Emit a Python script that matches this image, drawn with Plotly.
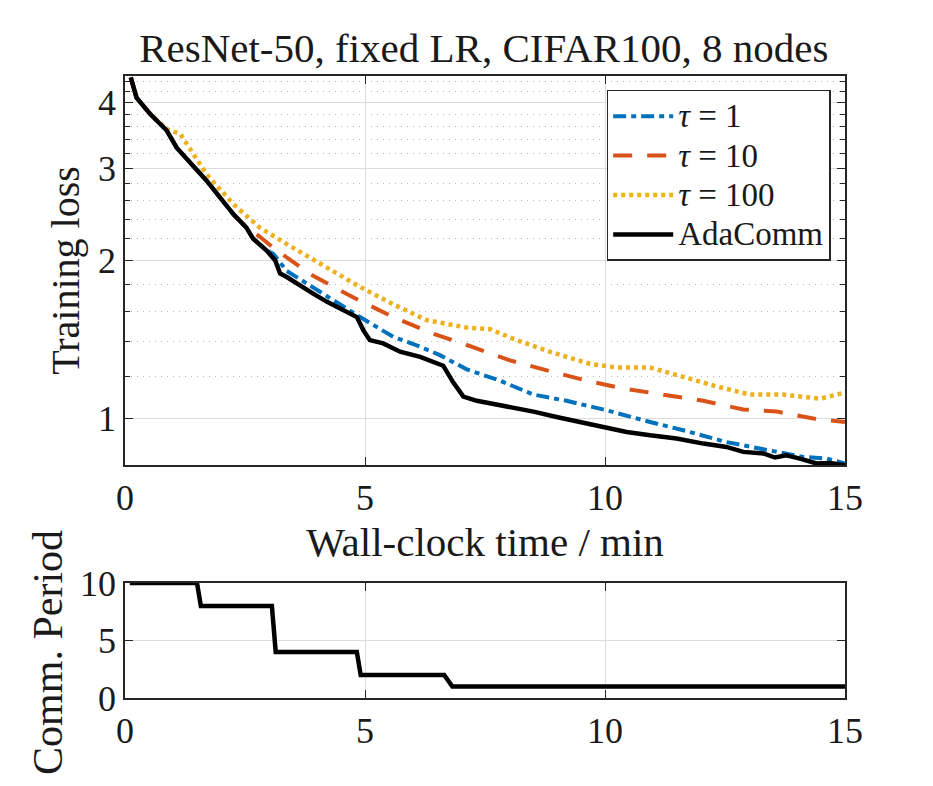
import plotly.graph_objects as go

# wall-clock time (min) and training loss
early_t = [0.12, 0.24, 0.52, 0.87, 1.08, 1.70, 2.26, 2.53]
early_loss = [4.47, 4.09, 3.81, 3.54, 3.28, 2.84, 2.45, 2.31]

tau1_t = early_t + [2.67, 2.95, 3.09, 3.37, 3.78, 4.34, 4.90, 5.59, 6.15, 6.56,
                    7.12, 7.81, 8.51, 9.20, 10.03, 10.94, 11.63, 12.53, 13.37,
                    14.13, 14.62, 15.0]
tau1_loss = early_loss + [2.20, 2.09, 2.06, 1.91, 1.81, 1.68, 1.56, 1.43, 1.37,
                          1.32, 1.24, 1.18, 1.11, 1.08, 1.036, 0.984, 0.949,
                          0.901, 0.869, 0.844, 0.838, 0.820]

tau10_t = early_t + [2.81, 3.16, 3.92, 4.76, 5.59, 6.42, 7.22, 8.02, 8.85,
                     9.62, 10.38, 11.21, 12.05, 12.88, 13.58, 14.34, 15.0]
tau10_loss = early_loss + [2.22, 2.09, 1.87, 1.70, 1.56, 1.45, 1.37, 1.29, 1.23,
                           1.18, 1.14, 1.11, 1.08, 1.04, 1.03, 0.999, 0.984]

tau100_t = [0.12, 0.24, 0.52, 0.87, 1.15, 1.70, 2.26, 2.81, 3.37, 4.06, 4.90,
            5.59, 6.28, 6.77, 7.12, 7.60, 8.16, 8.85, 9.69, 10.24, 10.94,
            11.63, 12.33, 13.02, 13.71, 14.48, 15.0]
tau100_loss = [4.47, 4.09, 3.81, 3.56, 3.49, 2.92, 2.56, 2.31, 2.15, 1.97, 1.78,
               1.65, 1.54, 1.51, 1.49, 1.48, 1.41, 1.34, 1.27, 1.25, 1.25,
               1.20, 1.15, 1.11, 1.11, 1.09, 1.12]

ada_t = [0.12, 0.24, 0.52, 0.87, 1.08, 1.70, 2.26, 2.53, 2.67, 2.95, 3.13,
         3.23, 3.37, 3.65, 3.92, 4.20, 4.55, 4.83, 4.97, 5.10, 5.38, 5.73,
         6.15, 6.42, 6.63, 6.84, 7.05, 7.33, 7.81, 8.23, 8.51, 8.99, 9.62,
         10.03, 10.45, 10.94, 11.49, 12.05, 12.53, 12.88, 13.30, 13.54,
         13.78, 14.06, 14.41, 14.69, 15.0]
ada_loss = [4.47, 4.09, 3.81, 3.54, 3.28, 2.84, 2.45, 2.31, 2.20, 2.09, 2.00,
            1.89, 1.86, 1.79, 1.73, 1.67, 1.61, 1.56, 1.47, 1.41, 1.39, 1.34,
            1.31, 1.28, 1.26, 1.17, 1.10, 1.08, 1.06, 1.04, 1.03, 1.006, 0.977,
            0.963, 0.942, 0.928, 0.915, 0.895, 0.882, 0.863, 0.857, 0.842,
            0.850, 0.838, 0.820, 0.822, 0.814]

# AdaComm communication period
period_t = [0.1, 1.50, 1.58, 3.06, 3.14, 4.83, 4.91, 6.65, 6.82, 15.0]
period_val = [10, 10, 8, 8, 4, 4, 2, 2, 1, 1]

loss_major = [1, 2, 3, 4]
loss_minor = [1.2, 1.4, 1.6, 1.8, 2.2, 2.4, 2.6, 2.8, 3.2, 3.4, 3.6, 3.8,
              4.2, 4.4]

FONT = "Liberation Serif, Times New Roman, DejaVu Serif, serif"
FRAME = "#262626"
TEXT = "#1a1a1a"


def legend_label(text):
    # bigger glyphs than the legend row height, like the MATLAB legend
    return f'<span style="font-size:33px">{text}</span>'


fig = go.Figure()
fig.add_trace(go.Scatter(x=tau1_t, y=tau1_loss, mode="lines",
                         name=legend_label("<i>τ</i> = 1"),
                         line=dict(color="#0072BD", width=4,
                                   dash="13px,5px,5px,5px")))
fig.add_trace(go.Scatter(x=tau10_t, y=tau10_loss, mode="lines",
                         name=legend_label("<i>τ</i> = 10"),
                         line=dict(color="#D95319", width=4,
                                   dash="19px,15px")))
fig.add_trace(go.Scatter(x=tau100_t, y=tau100_loss, mode="lines",
                         name=legend_label("<i>τ</i> = 100"),
                         line=dict(color="#EDB120", width=4.5,
                                   dash="4px,4px")))
fig.add_trace(go.Scatter(x=ada_t, y=ada_loss, mode="lines",
                         name=legend_label("AdaComm"),
                         line=dict(color="black", width=4.5)))
fig.add_trace(go.Scatter(x=period_t, y=period_val, mode="lines",
                         showlegend=False, xaxis="x2", yaxis="y2",
                         line=dict(color="black", width=4.5)))

axis_common = dict(
    showline=True, mirror="allticks", linecolor=FRAME, linewidth=1.5,
    ticks="inside", ticklen=8, tickcolor=FRAME, tickwidth=1,
    gridcolor="#dcdcdc", gridwidth=1, zeroline=False,
    tickfont=dict(family=FONT, size=36, color=TEXT),
)

fig.update_layout(
    width=933, height=786,
    margin=dict(l=117, r=96, t=68, b=96),
    paper_bgcolor="white", plot_bgcolor="white",
    font=dict(family=FONT, color=TEXT),
    title=dict(text="ResNet-50, fixed LR, CIFAR100, 8 nodes",
               x=0.510, xanchor="center", y=0.950, yanchor="middle",
               font=dict(family=FONT, size=41, color=TEXT)),
    xaxis=dict(axis_common, range=[0, 15], tickvals=[0, 5, 10, 15],
               domain=[0, 1], anchor="y",
               title=dict(text="Wall-clock time / min", standoff=10,
                          font=dict(family=FONT, size=41, color=TEXT))),
    yaxis=dict(axis_common, type="log",
               range=[-0.089, 0.653], domain=[0.3746, 1], anchor="x",
               tickvals=loss_major, ticktext=[str(v) for v in loss_major],
               minor=dict(tickmode="array", tickvals=loss_minor,
                          ticks="inside", ticklen=5, tickcolor=FRAME,
                          showgrid=True, gridcolor="#b4b4b4",
                          griddash="1px,5px", gridwidth=1),
               title=dict(text="Training loss", standoff=6,
                          font=dict(family=FONT, size=40, color=TEXT))),
    xaxis2=dict(axis_common, range=[0, 15], tickvals=[0, 5, 10, 15],
                domain=[0, 1], anchor="y2"),
    yaxis2=dict(axis_common, range=[0, 10], tickvals=[0, 5, 10],
                domain=[0, 0.1849], anchor="x2"),
    annotations=[dict(text="Comm. Period", textangle=-90, showarrow=False,
                      xref="paper", yref="paper", x=-0.107, y=0.074,
                      xanchor="center", yanchor="middle",
                      font=dict(family=FONT, size=42, color=TEXT))],
    legend=dict(x=0.669, y=0.9775, xanchor="left", yanchor="top",
                bgcolor="white", bordercolor=FRAME, borderwidth=1.5,
                font=dict(family=FONT, size=28, color=TEXT),
                tracegroupgap=0, itemwidth=60, entrywidth=182),
)

fig.write_html("out.html")
